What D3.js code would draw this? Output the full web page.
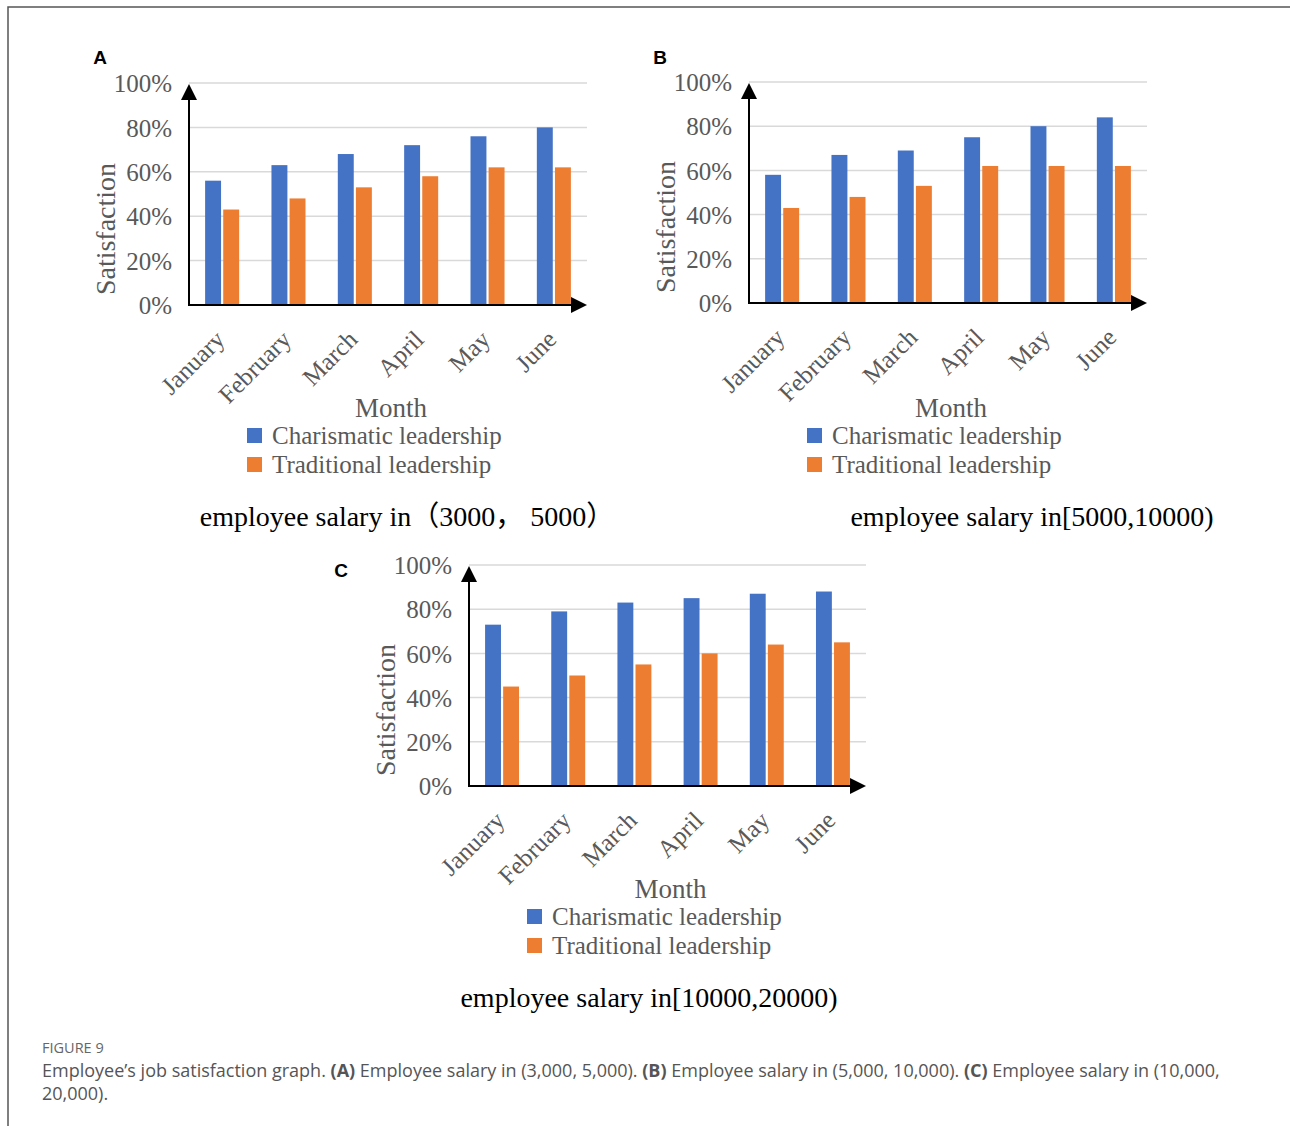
<!DOCTYPE html>
<html>
<head>
<meta charset="utf-8">
<script src="https://cdn.jsdelivr.net/npm/d3@7"></script>
<style>
  body { margin: 0; background: #fff; }
  svg { display: block; }
</style>
</head>
<body>
<div id="chart"></div>
<script>
const months = ['January', 'February', 'March', 'April', 'May', 'June'];
const seriesNames = ['Charismatic leadership', 'Traditional leadership'];
const yTicks = [0, 20, 40, 60, 80, 100];

const charismaticA = [56, 63, 68, 72, 76, 80];
const traditionalA = [43, 48, 53, 58, 62, 62];
const charismaticB = [58, 67, 69, 75, 80, 84];
const traditionalB = [43, 48, 53, 62, 62, 62];
const charismaticC = [73, 79, 83, 85, 87, 88];
const traditionalC = [45, 50, 55, 60, 64, 65];

const subtitles = ['employee salary in\uFF083000\uFF0C 5000\uFF09', 'employee salary in[5000,10000)', 'employee salary in[10000,20000)'];
const panelLetters = ['A', 'B', 'C'];

const colors = ['#4472C4', '#ED7D31'];
const serif = '"Liberation Serif", "DejaVu Serif", serif';
const grey = '#595959';

const width = 1290, height = 1126;

const svg = d3.select('#chart').append('svg')
  .attr('width', width)
  .attr('height', height);

// page frame
svg.append('path')
  .attr('d', 'M8,' + height + 'V7H' + width)
  .attr('fill', 'none')
  .attr('stroke', '#555')
  .attr('stroke-width', 1.5);

// lab = y reference for the text under each plot
const panels = [
  { x0: 189, x1: 587, top: 83, base: 305, lab: 305, sub: 407, letter: [100, 57], a: charismaticA, b: traditionalA },
  { x0: 749, x1: 1147, top: 82, base: 303, lab: 305, sub: 1032, letter: [660, 57], a: charismaticB, b: traditionalB },
  { x0: 469, x1: 866, top: 565, base: 786, lab: 786, sub: 649, letter: [341, 570], a: charismaticC, b: traditionalC }
];

panels.forEach((p, i) => {
  let g = svg.append('g');

  let x = d3.scaleBand()
    .domain(months)
    .range([p.x0, p.x1])
    .paddingInner(0.487)
    .paddingOuter(0.243);

  let xs = d3.scaleBand()
    .domain(seriesNames)
    .range([0, x.bandwidth()])
    .paddingInner(0.12);

  let y = d3.scaleLinear()
    .domain([0, 100])
    .range([p.base, p.top]);

  // gridlines
  g.append('g')
    .selectAll('line')
    .data(yTicks.slice(1))
    .join('line')
    .attr('x1', p.x0)
    .attr('x2', p.x1)
    .attr('y1', d => y(d))
    .attr('y2', d => y(d))
    .attr('stroke', '#d9d9d9')
    .attr('stroke-width', 1.5);

  // y tick labels
  let yAxis = d3.axisLeft(y).tickValues(yTicks).tickFormat(d => d + '%').tickSize(0).tickPadding(17);
  let ya = g.append('g').attr('transform', 'translate(' + p.x0 + ',0)').call(yAxis);
  ya.select('.domain').remove();
  ya.attr('font-family', serif).attr('font-size', 25);
  ya.selectAll('text')
    .attr('fill', grey)
    .attr('dy', '0.35em');

  // bars
  let rows = months.map((m, j) => ({ month: m, values: [p.a[j], p.b[j]] }));
  g.append('g')
    .selectAll('g')
    .data(rows)
    .join('g')
    .attr('transform', d => 'translate(' + x(d.month) + ',0)')
    .selectAll('rect')
    .data(d => d.values.map((v, k) => ({ name: seriesNames[k], value: v, k: k })))
    .join('rect')
    .attr('x', d => xs(d.name))
    .attr('width', xs.bandwidth())
    .attr('y', d => y(d.value))
    .attr('height', d => y(0) - y(d.value))
    .attr('fill', d => colors[d.k]);

  // axes with arrows
  g.append('line')
    .attr('x1', p.x0).attr('x2', p.x0)
    .attr('y1', p.base + 1).attr('y2', p.top + 14)
    .attr('stroke', '#000').attr('stroke-width', 2);
  g.append('path')
    .attr('d', 'M' + p.x0 + ',' + (p.top + 1) + 'l-8,16h16z')
    .attr('fill', '#000');
  g.append('line')
    .attr('x1', p.x0 - 1).attr('x2', p.x1 - 14)
    .attr('y1', p.base).attr('y2', p.base)
    .attr('stroke', '#000').attr('stroke-width', 2);
  g.append('path')
    .attr('d', 'M' + p.x1 + ',' + p.base + 'l-16,-8v16z')
    .attr('fill', '#000');

  // month labels
  g.append('g')
    .selectAll('text')
    .data(months)
    .join('text')
    .attr('transform', d => 'translate(' + (x(d) + x.bandwidth() / 2 + 4) + ',' + (p.base + 36) + ') rotate(-45)')
    .attr('text-anchor', 'end')
    .attr('font-family', serif)
    .attr('font-size', 25)
    .attr('fill', grey)
    .text(d => d);

  // axis titles
  g.append('text')
    .attr('transform', 'translate(' + (p.x0 - 74) + ',' + (p.base - 76) + ') rotate(-90)')
    .attr('text-anchor', 'middle')
    .attr('font-family', serif)
    .attr('font-size', 28)
    .attr('fill', grey)
    .text('Satisfaction');

  g.append('text')
    .attr('x', (p.x0 + p.x1) / 2 + 3)
    .attr('y', p.lab + 112)
    .attr('text-anchor', 'middle')
    .attr('font-family', serif)
    .attr('font-size', 27)
    .attr('fill', grey)
    .text('Month');

  // legend
  let lg = g.append('g')
    .selectAll('g')
    .data(seriesNames)
    .join('g')
    .attr('transform', (d, k) => 'translate(' + (p.x0 + 58) + ',' + (p.lab + 123 + k * 29) + ')');
  lg.append('rect')
    .attr('width', 15).attr('height', 15)
    .attr('fill', (d, k) => colors[k]);
  lg.append('text')
    .attr('x', 25).attr('y', 16)
    .attr('font-family', serif)
    .attr('font-size', 25)
    .attr('fill', grey)
    .text(d => d);

  // subtitle
  g.append('text')
    .attr('x', p.sub)
    .attr('y', p.lab + 221)
    .attr('text-anchor', 'middle')
    .attr('font-family', serif + ', "Noto Sans CJK SC"')
    .attr('font-size', 28)
    .attr('fill', '#000')
    .text(subtitles[i]);

  // panel letter
  g.append('text')
    .attr('x', p.letter[0])
    .attr('y', p.letter[1] + 7)
    .attr('text-anchor', 'middle')
    .attr('font-family', '"Liberation Sans", Arial, sans-serif')
    .attr('font-weight', 'bold')
    .attr('font-size', 19)
    .attr('fill', '#000')
    .text(panelLetters[i]);
});

// caption
const cap = svg.append('g')
  .attr('font-family', '"Open Sans", "Noto Sans", sans-serif')
  .attr('fill', '#555');

cap.append('text')
  .attr('x', 42).attr('y', 1053)
  .attr('font-size', 14.5)
  .attr('fill', '#666')
  .text('FIGURE 9');

const capLines = [
  [['Employee\u2019s job satisfaction graph. ', false], ['(A)', true], [' Employee salary in (3,000, 5,000). ', false], ['(B)', true], [' Employee salary in (5,000, 10,000). ', false], ['(C)', true], [' Employee salary in (10,000,', false]],
  [['20,000).', false]]
];

capLines.forEach((line, li) => {
  let t = cap.append('text')
    .attr('x', 42)
    .attr('y', 1077 + li * 23)
    .attr('font-size', 18);
  line.forEach(seg => {
    t.append('tspan')
      .attr('font-weight', seg[1] ? 'bold' : null)
      .text(seg[0]);
  });
});
</script>
</body>
</html>
